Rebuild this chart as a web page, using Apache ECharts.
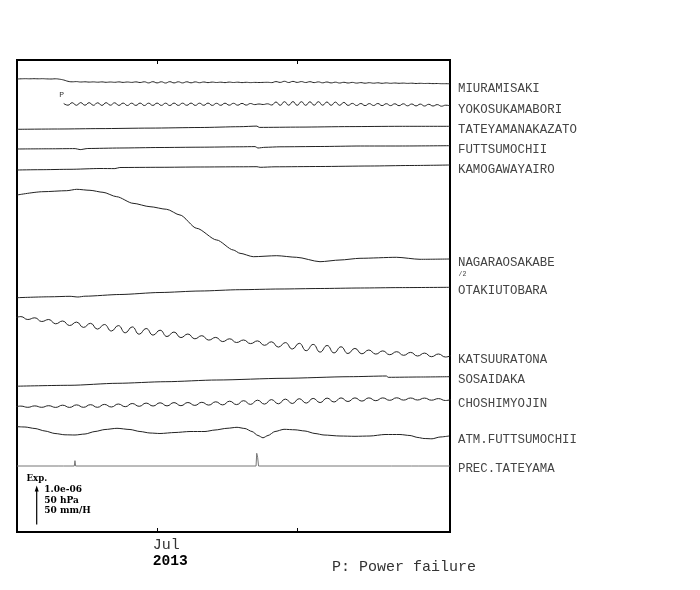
<!DOCTYPE html>
<html><head><meta charset="utf-8">
<script src="https://cdn.jsdelivr.net/npm/echarts@6/dist/echarts.min.js"></script>
<style>html,body{margin:0;padding:0;background:#fff}#c{width:700px;height:590px}</style>
</head><body><div id="c"></div>
<script>
// ---------------- DATA ----------------
// time axis: days since 2013-06-01 (Jul 1 = 30, Aug 1 = 61)
const dayMin = -1, dayMax = 95;
const tickDays = [30, 61];
const monthLabel = 'Jul', yearLabel = '2013';

const stationNames = ['MIURAMISAKI','YOKOSUKAMABORI','TATEYAMANAKAZATO','FUTTSUMOCHII','KAMOGAWAYAIRO',
  'NAGARAOSAKABE','OTAKIUTOBARA','KATSUURATONA','SOSAIDAKA','CHOSHIMYOJIN','ATM.FUTTSUMOCHII','PREC.TATEYAMA'];

// regularly sampled traces (start day, step in days, deviations; plot units, down = +)
const miuraT0 = -1, miuraDt = 0.941176;
const miura = [0,-0.2,-0.3,-0.2,-0.3,-0.2,-0.3,-0.1,0,-0.2,0.2,
  1.0,2.3,
  2.8,2.6,3.0,2.8,3.1,2.9,3.2,2.9,3.3,3.0,3.3,2.9,3.4,3.0,3.4,2.9,3.5,2.8,
  3.9,2.7,3.9,2.8,4.0,2.7,3.9,2.8,3.9,2.8,
  3.8,2.9,3.7,3.0,3.6,3.1,3.5,3.2,3.6,3.1,
  3.5,3.2,3.6,3.3,3.6,3.4,3.5,3.4,3.3,3.6,
  2.6,3.4,2.3,3.5,2.4,3.4,2.6,3.5,2.7,3.6,
  2.9,3.8,3.0,3.9,3.2,4.0,3.3,4.0,3.4,4.1,
  3.6,4.2,3.7,4.2,3.8,4.3,3.9,4.3,4.0,4.3,
  4.1,4.4,4.2,4.5,4.3,4.5,4.4,4.6,4.5,4.7,4.7,4.8];

const yokoT0 = 9.353, yokoDt = 0.941176;
const yoko = [-0.5,1.2,-1.3,1.3,-1.4,1.2,-1.3,1.3,-1.2,1.4,-1.3,1.2,-1.2,
  1.4,-0.9,1.5,-0.8,1.4,-0.9,1.5,-0.8,1.4,-0.9,1.4,-0.8,1.5,-0.9,1.4,-0.8,1.3,-0.9,1.4,-0.8,1.3,-0.9,1.4,-0.7,1.3,-0.8,1.2,-0.7,1.2,-0.6,1.1,-0.5,
  0.6,0.0,0.5,-0.2,
  1.0,-2.0,1.3,-2.3,1.2,-2.4,1.3,-2.3,1.3,-2.2,1.2,-2.3,1.2,-2.0,1.3,-1.9,1.3,-1.6,1.4,
  -0.6,1.5,-0.5,1.6,-0.4,1.5,-0.5,1.6,-0.3,1.6,-0.2,1.7,-0.2,1.8,0.0,1.9,0.1,2.0,0.3,2.0,0.6,2.2,1.2,1.8];

const katsuT0 = -1.687, katsuDt = 1.543;
const katsu = [1.3,-0.4,2.5,0.8,4.5,2.5,6.8,4.0,8.5,5.1,
  10.4,6.3,12.1,7.5,14.0,8.6,15.8,9.9,17.2,11.5,
  18.1,13.2,19.5,15.0,20.6,17.0,21.8,18.7,23.1,20.4,
  24.6,21.8,25.5,23.0,26.6,23.9,28.3,24.8,30.1,25.6,
  32.0,26.3,33.7,27.4,35.1,28.5,35.9,29.8,36.5,31.4,
  36.8,33.0,37.1,33.9,37.7,34.7,38.3,35.4,39.0,36.1,
  39.7,37.0,40.0,38.0];

const choshiT0 = -1.687, choshiDt = 1.543;
const choshi = [0.6,-0.6,0.6,-0.8,0.6,-1.0,0.7,-1.5,0.7,-1.8,
  0.6,-2.0,0.6,-2.3,0.3,-2.7,0.0,-3.2,-0.4,-3.6,
  -0.7,-3.9,-0.8,-4.1,-1.0,-4.2,-1.3,-4.4,-1.6,-4.9,
  -1.8,-5.5,-2.1,-6.0,-2.3,-6.5,-2.6,-7.1,-2.9,-7.6,
  -3.2,-8.0,-3.6,-8.3,-4.1,-8.6,-4.7,-8.8,-5.2,-8.8,
  -5.6,-8.8,-6.0,-8.8,-6.4,-8.9,-6.6,-8.7,-6.7,-8.6,
  -6.5,-8.1,-6.2,-7.6];

// irregular traces: [day, deviation]
const tateyama = [[-1,0],[8.5,-0.3],[17.4,-0.7],[28.5,-1.2],[39.6,-1.8],[48.4,-2.6],[52.2,-3.2],[52.7,-1.9],[61.7,-2.2],[72.8,-2.7],[83.9,-3.0],[95,-3.0]];
const futtsu = [[-1,0],[6.3,-0.2],[11.9,-0.4],[13.0,0.6],[14.7,-0.5],[21.8,-1.0],[30.7,-1.5],[39.6,-1.8],[48.4,-2.2],[51.8,-2.4],[52.4,-1.0],[54.0,-1.7],[57.3,-2.2],[66.2,-2.5],[75.1,-3.0],[83.9,-3.0],[95,-3.3]];
const kamo = [[-1,0],[4.1,-0.3],[10.75,-0.7],[17.4,-1.5],[20.7,-1.4],[21.8,-2.5],[30.7,-2.7],[39.6,-3.0],[48.4,-3.2],[52.2,-3.3],[52.9,-2.7],[56.2,-3.2],[66.2,-3.5],[77.3,-4.0],[86.1,-4.5],[95,-5.0]];
const nagara = [[-1,0],[4.76,-3.3],[10.02,-4.3],[12.24,-5.7],[15.18,-4.7],[18.07,-2.7],[21.1,1.7],[24.72,8.3],[28.49,11.7],[32.19,14.3],[35.14,20],[38.84,33.3],[43.28,45],[46.96,55],[48.44,58.3],[51.39,61.7],[56.58,60.7],[61.01,62.3],[66.18,66.7],[70.61,65],[75.05,63.3],[83.18,62.3],[88.35,64.3],[95,64]];
const otaki = [[-1,0],[6.3,-0.9],[10.75,-1.4],[12.5,-0.7],[14.1,-1.5],[21.8,-3.2],[30.7,-5.2],[39.6,-6.7],[48.4,-8.0],[57.3,-8.7],[66.2,-9.2],[75.1,-9.7],[83.9,-10.1],[95,-10.4]];
const sosai = [[-1,0],[10.75,-0.9],[21.2,-2.9],[32,-4.5],[43.3,-6.2],[58.2,-7.9],[72.8,-9.5],[80.9,-10.2],[81.3,-8.9],[88.4,-9.2],[95,-9.5]];
const atm = [[-1,0],[0.77,0.3],[2.99,1.8],[5.21,4.3],[7.42,6.8],[9.64,8.1],[11.86,8.3],[14.08,7.3],[16.29,4.8],[18.51,2.8],[21.17,1.6],[24.05,2.8],[26.27,4.8],[28.49,6.3],[30.7,6.8],[34.03,5.8],[37.36,4.8],[40.68,4.8],[42.9,3.3],[45.56,1.6],[47.78,0.6],[49.55,1.8],[51.1,4.8],[52.43,8.8],[53.54,11.1],[54.65,8.8],[56.2,4.8],[58.2,2.6],[60.64,3.1],[62.85,4.3],[65.07,6.8],[67.07,8.3],[70.61,9.3],[73.94,9.6],[77.26,9.3],[80.59,7.8],[83.91,7.8],[86.13,8.8],[87.9,10.8],[89.24,11.8],[91.01,12.1],[92.79,10.3],[94.78,9.3]];
// precipitation, mm/H
const prec = [[-1,0],[8.3,0],[8.5,1.2],[8.7,0],[9.3,0],[9.4,1.5],[9.6,0],[11.7,0],[11.85,5.8],[12.0,0],[52.0,0],[52.15,13.8],[52.35,9.5],[52.55,0],[82.0,0],[82.1,1.0],[82.2,0],[86.5,0],[86.6,1.3],[86.7,0],[88.1,0],[88.2,1.6],[88.3,0],[95,0]];

const scaleTexts = ['1.0e-06', '50 hPa', '50 mm/H'];
const noteText = 'P: Power failure';

// ---------------- LAYOUT ----------------
const offsets = [19, 44, 69.3, 89, 110, 135, 237.7, 257, 326.2, 346.7, 366.7, 406];
const labelY = [88.3, 110, 129.3, 149.3, 169.3, 262.3, 290.7, 360, 379.3, 404, 440, 469];
const precScale = 0.92;
const MONO = '"Liberation Mono", "DejaVu Sans Mono", monospace';
const SERIF = '"DejaVu Serif", "Liberation Serif", serif';
const lineColor = '#222';
const GRID = { left: 17, top: 60, right: 250, bottom: 58 };

function regular(t0, dt, vals, off) { return vals.map((v, i) => [t0 + i * dt, off + v]); }
function pairs(arr, off) { return arr.map(p => [p[0], off + p[1]]); }

const traces = [
  regular(miuraT0, miuraDt, miura, offsets[0]),
  regular(yokoT0, yokoDt, yoko, offsets[1]),
  pairs(tateyama, offsets[2]),
  pairs(futtsu, offsets[3]),
  pairs(kamo, offsets[4]),
  pairs(nagara, offsets[5]),
  pairs(otaki, offsets[6]),
  regular(katsuT0, katsuDt, katsu, offsets[7]),
  pairs(sosai, offsets[8]),
  regular(choshiT0, choshiDt, choshi, offsets[9]),
  pairs(atm, offsets[10]),
  prec.map(p => [p[0], offsets[11] - p[1] * precScale])
];
const wavy = [true, true, false, false, false, false, false, true, false, true, false, false];

const series = traces.map((d, i) => {
  const s = {
    type: 'line', name: stationNames[i], data: d, showSymbol: false, symbol: 'none',
    smooth: i === 11 ? false : (wavy[i] ? 0.5 : 0.25), smoothMonotone: wavy[i] ? undefined : 'x',
    lineStyle: { color: i === 11 ? '#777' : lineColor, width: 1 }, silent: true, animation: false, clip: true
  };
  if (i === 1) {
    s.markPoint = {
      silent: true, animation: false,
      symbol: 'circle', symbolSize: 1, itemStyle: { color: 'rgba(0,0,0,0)' },
      label: { show: true, formatter: 'P', position: 'inside', offset: [-2, -9],
        fontFamily: MONO, fontSize: 8, color: '#333' },
      data: [{ coord: [yokoT0, offsets[1] + yoko[0]] }]
    };
  }
  return s;
});

const graphics = stationNames.map((n, i) => ({
  type: 'text', x: 458, y: labelY[i], silent: true,
  style: { text: n, fontFamily: MONO, fontSize: 12.4, fill: '#444', verticalAlign: 'middle', align: 'left' }
}));
graphics.push({ type: 'text', x: 458.5, y: 274.3, silent: true,
  style: { text: '/2', fontFamily: MONO, fontSize: 6.5, fill: '#444', verticalAlign: 'middle' } });
graphics.push({ type: 'text', x: 26.5, y: 478.5, silent: true,
  style: { text: 'Exp.', fontFamily: SERIF, fontWeight: 'bold', fontSize: 8.6, fill: '#000', verticalAlign: 'middle' } });
graphics.push({ type: 'line', silent: true, shape: { x1: 36.7, y1: 524.5, x2: 36.7, y2: 489 }, style: { stroke: '#000', lineWidth: 1.2 } });
graphics.push({ type: 'polygon', silent: true, shape: { points: [[36.7, 485.5], [34.7, 491.5], [38.7, 491.5]] }, style: { fill: '#000' } });
scaleTexts.forEach((t, i) => graphics.push({ type: 'text', x: 44.3, y: 490 + i * 10.4, silent: true,
  style: { text: t, fontFamily: SERIF, fontWeight: 'bold', fontSize: 9, fill: '#000', verticalAlign: 'middle' } }));
graphics.push({ type: 'text', x: 332, y: 567.5, silent: true,
  style: { text: noteText, fontFamily: MONO, fontSize: 15, fill: '#333', verticalAlign: 'middle' } });

const chart = echarts.init(document.getElementById('c'), null, { renderer: 'canvas' });
const option = {
  animation: false,
  backgroundColor: '#fff',
  grid: Object.assign({ show: true, borderColor: '#000', borderWidth: 2, backgroundColor: 'transparent' }, GRID),
  xAxis: [
    { type: 'value', min: dayMin, max: dayMax, position: 'bottom',
      axisLine: { show: false }, splitLine: { show: false }, axisTick: { show: false },
      axisLabel: { show: true, customValues: [tickDays[0] - 0.9], align: 'left', margin: 5,
        formatter: () => '{a|' + monthLabel + '}\n{b|' + yearLabel + '}',
        rich: { a: { fontFamily: MONO, fontSize: 15, lineHeight: 16, color: '#333' },
                b: { fontFamily: MONO, fontSize: 14.6, fontWeight: 'bold', lineHeight: 16, color: '#000' } } } }
  ],
  yAxis: { type: 'value', min: 0, max: 472, inverse: true, show: false },
  series: series,
  graphic: graphics
};
chart.setOption(option);
// inward month ticks on top and bottom frame, positioned through the x scale
const yTop = chart.convertToPixel({ yAxisIndex: 0 }, 0);
const yBot = chart.convertToPixel({ yAxisIndex: 0 }, 472);
tickDays.forEach(d => {
  const x = Math.round(chart.convertToPixel({ xAxisIndex: 0 }, d)) + 0.5;
  graphics.push({ type: 'line', silent: true, shape: { x1: x, y1: yTop, x2: x, y2: yTop + 4 }, style: { stroke: '#000', lineWidth: 1 } });
  graphics.push({ type: 'line', silent: true, shape: { x1: x, y1: yBot, x2: x, y2: yBot - 4 }, style: { stroke: '#000', lineWidth: 1 } });
});
chart.setOption({ graphic: graphics });
</script></body></html>
